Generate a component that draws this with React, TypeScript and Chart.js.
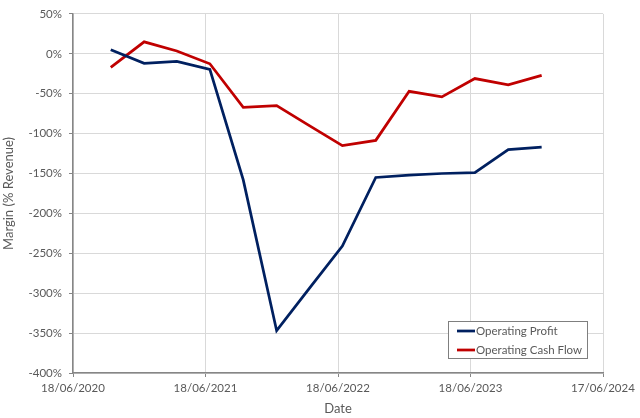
import React, { useEffect, useRef } from "react";
import { Chart, registerables } from "chart.js";

Chart.register(...registerables);

const dates = [
  "2020-09-30", "2020-12-31", "2021-03-31", "2021-06-30",
  "2021-09-30", "2021-12-31", "2022-03-31", "2022-06-30",
  "2022-09-30", "2022-12-31", "2023-03-31", "2023-06-30",
  "2023-09-30", "2023-12-31",
];
const operatingProfit = [5, -12, -9.5, -19.5, -158, -347, -294, -241, -155, -152, -150, -149, -120, -117];
const operatingCashFlow = [-17, 15, 3.5, -12.5, -67, -65, -90, -115, -108.5, -47, -54, -31, -39, -27];
const xTickDates = ["2020-06-18", "2021-06-18", "2022-06-18", "2023-06-18", "2024-06-17"];
const yMin = -400;
const yMax = 50;
const yStep = 50;
const seriesNames = ["Operating Profit", "Operating Cash Flow"];
const seriesColors = ["#002060", "#C00000"];

const toDay = (s: string) => {
  const [y, m, d] = s.split("-").map(Number);
  return Date.UTC(y, m - 1, d) / 86400000;
};
const fmtDay = (v: number) => {
  const dt = new Date(v * 86400000);
  const dd = String(dt.getUTCDate()).padStart(2, "0");
  const mm = String(dt.getUTCMonth() + 1).padStart(2, "0");
  return `${dd}/${mm}/${dt.getUTCFullYear()}`;
};

const FONT = "Lato, 'Open Sans', sans-serif";
const TEXT = "#595959";

const legendPlugin = {
  id: "boxLegend",
  afterDraw(chart: any) {
    const { ctx, chartArea } = chart;
    const w = 140;
    const h = 38;
    const right = chartArea.right - 15;
    const bottom = chartArea.bottom - 14;
    const left = right - w;
    const top = bottom - h;
    ctx.save();
    ctx.fillStyle = "#ffffff";
    ctx.fillRect(left, top, w, h);
    ctx.strokeStyle = "#7f7f7f";
    ctx.lineWidth = 1;
    ctx.strokeRect(left + 0.5, top + 0.5, w - 1, h - 1);
    ctx.font = `11.5px ${FONT}`;
    ctx.textBaseline = "middle";
    ctx.textAlign = "left";
    chart.data.datasets.forEach((ds: any, i: number) => {
      const cy = top + 10 + i * 19;
      ctx.strokeStyle = ds.borderColor;
      ctx.lineWidth = 2.75;
      ctx.beginPath();
      ctx.moveTo(left + 9, cy);
      ctx.lineTo(left + 27, cy);
      ctx.stroke();
      ctx.fillStyle = TEXT;
      ctx.fillText(ds.label, left + 28, cy);
    });
    ctx.restore();
  },
};

export default function App() {
  const ref = useRef<HTMLCanvasElement>(null);
  useEffect(() => {
    if (!ref.current) return;
    const xs = dates.map(toDay);
    const xMin = toDay(xTickDates[0]);
    const xMax = toDay(xTickDates[xTickDates.length - 1]);
    const chart = new Chart(ref.current, {
      type: "line",
      data: {
        datasets: [
          {
            label: seriesNames[0],
            data: xs.map((x, i) => ({ x, y: operatingProfit[i] })),
            borderColor: seriesColors[0],
            backgroundColor: seriesColors[0],
            borderWidth: 2.75,
            pointRadius: 0,
            tension: 0,
          },
          {
            label: seriesNames[1],
            data: xs.map((x, i) => ({ x, y: operatingCashFlow[i] })),
            borderColor: seriesColors[1],
            backgroundColor: seriesColors[1],
            borderWidth: 2.75,
            pointRadius: 0,
            tension: 0,
          },
        ],
      },
      options: {
        animation: false,
        responsive: false,
        maintainAspectRatio: false,
        layout: { padding: { left: 0, right: 37, top: 11, bottom: 0 } },
        plugins: {
          legend: { display: false },
          tooltip: { enabled: false },
        },
        scales: {
          x: {
            type: "linear",
            min: xMin,
            max: xMax,
            afterBuildTicks: (scale: any) => {
              scale.ticks = xTickDates.map((d) => ({ value: toDay(d) }));
            },
            afterFit: (scale: any) => {
              scale.height = 45;
            },
            ticks: {
              callback: (v: any) => fmtDay(Number(v)),
              color: TEXT,
              font: { family: FONT, size: 11.5 },
              padding: 4,
              maxRotation: 0,
              autoSkip: false,
            },
            grid: { color: "#d9d9d9", tickColor: "#868686", tickLength: 4 },
            border: { color: "#868686", width: 1.5 },
            title: {
              display: true,
              text: "Date",
              color: TEXT,
              font: { family: FONT, size: 13 },
              padding: { top: 0, bottom: 1 },
            },
          },
          y: {
            min: yMin,
            max: yMax,
            afterFit: (scale: any) => {
              scale.width = 73;
            },
            ticks: {
              stepSize: yStep,
              callback: (v: any) => `${v}%`,
              color: TEXT,
              font: { family: FONT, size: 11.5 },
              padding: 7,
            },
            grid: { color: "#d9d9d9", tickColor: "#868686", tickLength: 4 },
            border: { color: "#868686", width: 1.5 },
            title: {
              display: true,
              text: "Margin (% Revenue)",
              color: TEXT,
              font: { family: FONT, size: 13 },
              padding: { top: 1, bottom: 0 },
            },
          },
        },
      },
      plugins: [legendPlugin],
    });
    return () => chart.destroy();
  }, []);
  return (
    <div style={{ position: "fixed", left: 0, top: 0, width: 640, height: 418, background: "#fff" }}>
      <canvas ref={ref} width={640} height={418} />
    </div>
  );
}
